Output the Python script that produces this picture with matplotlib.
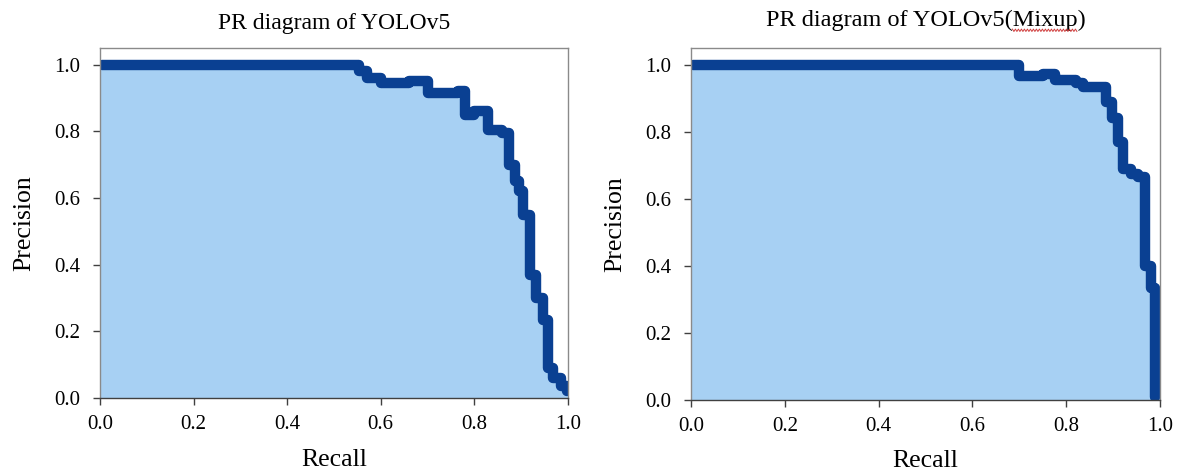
import matplotlib
matplotlib.use("Agg")
import matplotlib.pyplot as plt
import numpy as np
from matplotlib.lines import Line2D

plt.rcParams['font.family'] = ['Liberation Serif', 'DejaVu Serif']

# PR curve of the baseline model (step vertices)
recall_base = [0.005, 0.553, 0.57, 0.60, 0.66, 0.70, 0.765, 0.78, 0.80, 0.83, 0.86,
               0.875, 0.887, 0.895, 0.905, 0.92, 0.932, 0.947, 0.957, 0.968, 0.985, 0.997]
precision_base = [1.0, 0.98, 0.96, 0.945, 0.95, 0.915, 0.92, 0.85, 0.86, 0.805, 0.795,
                  0.70, 0.65, 0.62, 0.55, 0.37, 0.30, 0.235, 0.09, 0.06, 0.035, 0.02]

# PR curve with Mixup augmentation
recall_mix = [0.005, 0.70, 0.75, 0.775, 0.82, 0.835, 0.885, 0.897, 0.91, 0.92,
              0.937, 0.953, 0.968, 0.98, 0.99, 0.99]
precision_mix = [1.0, 0.965, 0.972, 0.955, 0.945, 0.935, 0.89, 0.84, 0.77, 0.69,
                 0.675, 0.665, 0.40, 0.335, 0.32, 0.01]

titles = ['PR diagram of YOLOv5', 'PR diagram of YOLOv5(Mixup)']
ticks = [0.0, 0.2, 0.4, 0.6, 0.8, 1.0]
tick_labels = ['0.0', '0.2', '0.4', '0.6', '0.8', '1.0']

line_color = '#0A4092'
fill_color = '#A7D0F3'

fig = plt.figure(figsize=(11.8, 4.72), dpi=100)
ax1 = fig.add_axes([0.0847, 0.1568, 0.3966, 0.7415])
ax2 = fig.add_axes([0.5856, 0.1525, 0.3975, 0.7458])

curves = [(recall_base, precision_base), (recall_mix, precision_mix)]
for ax, (r, p), title in zip([ax1, ax2], curves, titles):
    ax.fill_between([0.0] + r + [1.0], [p[0]] + p + [p[-1]], 0, step='post',
                    color=fill_color, linewidth=0)
    ax.plot(r, p, drawstyle='steps-post', color=line_color, linewidth=7.5,
            solid_joinstyle='round', solid_capstyle='round')
    ax.set_xlim(0, 1.0)
    ax.set_ylim(0, 1.05)
    ax.set_xticks(ticks)
    ax.set_xticklabels(tick_labels)
    ax.set_yticks(ticks)
    ax.set_yticklabels(tick_labels)
    ax.tick_params(labelsize=15, length=5, width=1, color='#404040', direction='out')
    ax.tick_params(axis='x', pad=7)
    ax.tick_params(axis='y', pad=9)
    for s in ax.spines.values():
        s.set_color('#8a8a8a')
        s.set_linewidth(1.0)
    ax.spines['bottom'].set_color('#404040')
    ax.set_ylabel('Precision', fontsize=18.5, labelpad=14)

ax1.set_xlabel('Recall', fontsize=18.5, labelpad=11)
ax2.set_xlabel('Recall', fontsize=18.5, labelpad=10)
ax1.set_title(titles[0], fontsize=17, pad=14)
t2 = ax2.set_title(titles[1], fontsize=17.5, pad=16)

# spell-check squiggle under "Mixup" in the second title
fig.canvas.draw()
renderer = fig.canvas.get_renderer()
bb = t2.get_window_extent(renderer)
prefix = fig.text(0, 0, 'PR diagram of YOLOv5(', fontsize=17.5)
word = fig.text(0, 0, 'Mixup', fontsize=17.5)
x_start = bb.x0 + prefix.get_window_extent(renderer).width
x_end = x_start + word.get_window_extent(renderer).width
prefix.remove()
word.remove()
wx = np.arange(x_start, x_end, 1.5)
wy = bb.y0 + 0.5 + 1.2 * np.where(np.arange(len(wx)) % 2 == 0, 1, -1)
fig.add_artist(Line2D(wx / fig.bbox.width, wy / fig.bbox.height,
                      color='#d04040', linewidth=0.7))

fig.savefig('out.png', dpi=100)
